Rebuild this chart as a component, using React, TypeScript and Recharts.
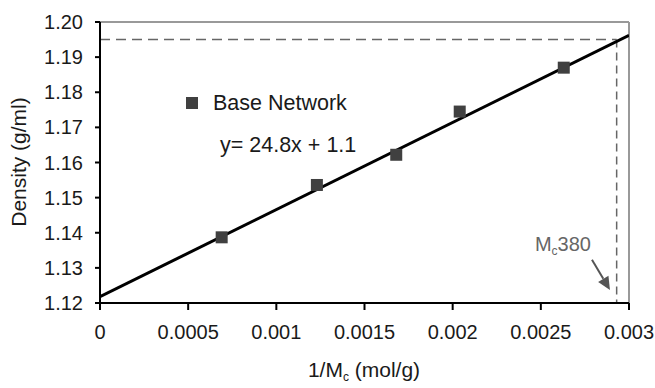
import React from 'react';
import { ScatterChart, Scatter, XAxis, YAxis, ReferenceLine } from 'recharts';

// measured points: inverse molecular weight between crosslinks vs density
const INV_MC = [0.00069, 0.00123, 0.00168, 0.00204, 0.00263];
const DENSITY = [1.1387, 1.1536, 1.1622, 1.1745, 1.187];

const X_TICKS = [0, 0.0005, 0.001, 0.0015, 0.002, 0.0025, 0.003];
const Y_TICKS = [1.12, 1.13, 1.14, 1.15, 1.16, 1.17, 1.18, 1.19, 1.2];

// linear fit
const FIT_SLOPE = 24.8;
const FIT_INTERCEPT = 1.1218;
const FIT_X = [0, 0.003];

// Mc read-off at the target density
const MC_DENSITY = 1.195;
const MC_INV = 0.00293;
const ARROW_FROM = { x: 0.00279, y: 1.1323 };
const ARROW_TO = { x: 0.002892, y: 1.1237 };

const FONT = '"Liberation Sans", Arial, sans-serif';
const TEXT = '#1a1a1a';
const FS = 20;
const FS_TITLE = 21;

const points = INV_MC.map((x, i) => ({ x, y: DENSITY[i] }));
const fitLine = FIT_X.map(x => ({ x, y: FIT_SLOPE * x + FIT_INTERCEPT }));

const SquareDot = (props: any) => {
  const { cx, cy } = props;
  return <rect x={cx - 6} y={cy - 6} width={12} height={12} fill="#404040" />;
};

const McArrow = (props: any) => {
  const { x1, y1, x2, y2 } = props;
  const ang = Math.atan2(y2 - y1, x2 - x1);
  const len = 13;
  const half = 6;
  const bx = x2 - len * Math.cos(ang);
  const by = y2 - len * Math.sin(ang);
  const px = -Math.sin(ang) * half;
  const py = Math.cos(ang) * half;
  return (
    <g>
      <line x1={x1} y1={y1} x2={bx} y2={by} stroke="#555" strokeWidth={2} />
      <polygon points={`${x2},${y2} ${bx + px},${by + py} ${bx - px},${by - py}`} fill="#555" />
      <text x={x1 - 1} y={y1 - 9} textAnchor="end" fontFamily={FONT} fontSize={FS} fill="#666">
        M<tspan fontSize={12} dy={4}>c</tspan><tspan dy={-4}>380</tspan>
      </text>
    </g>
  );
};

export default function App() {
  return (
    <div style={{ position: 'absolute', left: 0, top: 0, width: 655, height: 388, background: '#fff', overflow: 'hidden' }}>
      <ScatterChart width={655} height={388} margin={{ top: 22, right: 26, left: 0, bottom: 0 }}>
        <XAxis
          type="number"
          dataKey="x"
          domain={[0, 0.003]}
          ticks={X_TICKS}
          interval={0}
          allowDataOverflow
          height={85}
          stroke="#000"
          strokeWidth={2}
          tickSize={7}
          tickMargin={15}
          tick={{ fill: TEXT, fontSize: FS, fontFamily: FONT }}
        />
        <YAxis
          type="number"
          dataKey="y"
          domain={[1.12, 1.2]}
          ticks={Y_TICKS}
          interval={0}
          allowDataOverflow
          width={100}
          stroke="#000"
          strokeWidth={2}
          tickSize={5}
          tickMargin={12}
          tickFormatter={(v: number) => v.toFixed(2)}
          tick={{ fill: TEXT, fontSize: FS, fontFamily: FONT }}
        />
        <ReferenceLine x={0.003} stroke="#999" strokeWidth={2} />
        <ReferenceLine y={1.2} stroke="#999" strokeWidth={2} />
        <ReferenceLine
          segment={[{ x: 0, y: MC_DENSITY }, { x: MC_INV, y: MC_DENSITY }]}
          stroke="#666"
          strokeWidth={1.5}
          strokeDasharray="10 6"
        />
        <ReferenceLine
          segment={[{ x: MC_INV, y: MC_DENSITY }, { x: MC_INV, y: 1.12 }]}
          stroke="#666"
          strokeWidth={1.5}
          strokeDasharray="8 5"
        />
        <ReferenceLine segment={[ARROW_FROM, ARROW_TO]} shape={McArrow} />
        <Scatter
          data={fitLine}
          line={{ stroke: '#000', strokeWidth: 3 }}
          shape={() => null}
          isAnimationActive={false}
        />
        <Scatter data={points} shape={SquareDot} isAnimationActive={false} />
      </ScatterChart>
      {/* legend and fit equation */}
      <div style={{ position: 'absolute', left: 186, top: 91, fontFamily: FONT, fontSize: 21.5, color: TEXT, lineHeight: '24px' }}>
        <div style={{ display: 'flex', alignItems: 'center' }}>
          <span style={{ display: 'inline-block', width: 12, height: 12, background: '#404040', marginRight: 15 }} />
          Base Network
        </div>
        <div style={{ marginLeft: 34, marginTop: 18 }}>
          {`y= ${FIT_SLOPE}x + ${FIT_INTERCEPT.toFixed(1)}`}
        </div>
      </div>
      <div
        style={{
          position: 'absolute', left: 19, top: 162, transform: 'translate(-50%, -50%) rotate(-90deg)',
          fontFamily: FONT, fontSize: FS_TITLE, color: TEXT, whiteSpace: 'nowrap',
        }}
      >
        Density (g/ml)
      </div>
      <div
        style={{
          position: 'absolute', left: 364, top: 373, transform: 'translate(-50%, -50%)',
          fontFamily: FONT, fontSize: FS_TITLE, color: TEXT, whiteSpace: 'nowrap', lineHeight: '22px',
        }}
      >
        1/M<span style={{ fontSize: 12, verticalAlign: -4 }}>c</span> (mol/g)
      </div>
    </div>
  );
}
